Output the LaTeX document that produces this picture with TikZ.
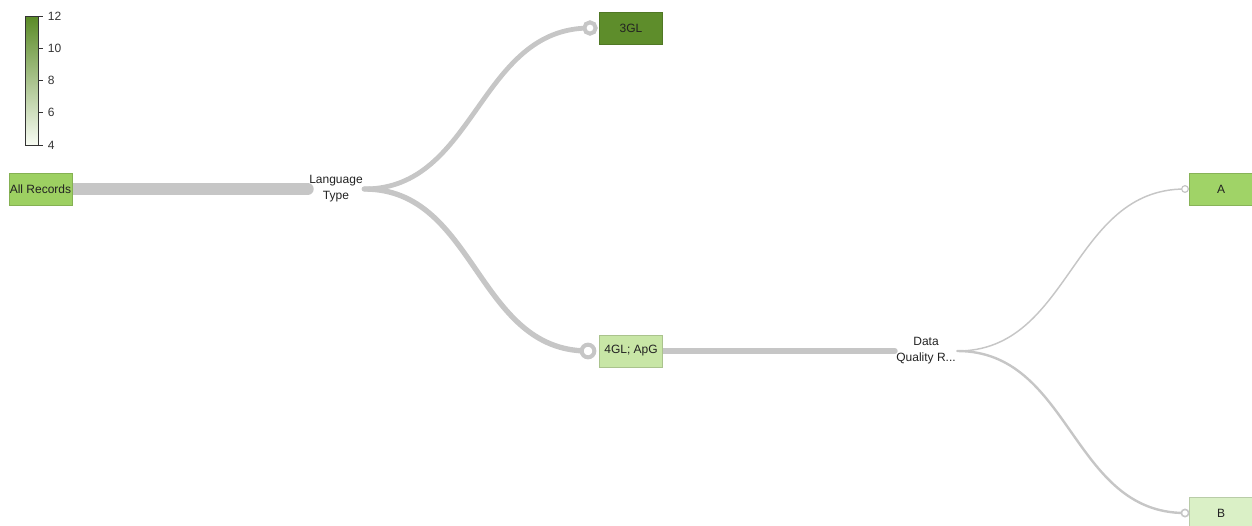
\documentclass[tikz,border=0pt]{standalone}
\usepackage{fontspec}
\setmainfont{Liberation Sans}
\usetikzlibrary{positioning,calc}

\definecolor{linkgray}{HTML}{C6C6C6}
\definecolor{txt}{HTML}{222222}
\definecolor{gA}{HTML}{A0D367}
\definecolor{gAll}{HTML}{9DD062}
\definecolor{g3GL}{HTML}{5E8D2B}
\definecolor{g4GL}{HTML}{C8E6A6}
\definecolor{gB}{HTML}{DAF0C6}
\definecolor{barTop}{HTML}{5A8A26}
\definecolor{barBot}{HTML}{F8FCF3}

\pgfdeclarelayer{links}
\pgfsetlayers{links,main}

\begin{document}
\begin{tikzpicture}[
  x=0.75pt, y=-0.75pt,
  font=\fontsize{9}{12}\selectfont, text=txt,
  leaf/.style={draw=#1!85!black, line width=0.3pt, fill=#1, minimum width=47pt, minimum height=24pt, inner sep=0pt},
  split/.style={align=center, inner sep=0pt, minimum width=#1},
  knob/.style={circle, draw=linkgray, fill=white, inner sep=0pt},
  link/.style={draw=linkgray, line width=#1, line cap=round},
]
  \useasboundingbox (0,0) rectangle (1252,525);

  % colour scale
  \shade[top color=barTop, bottom color=barBot] (25,16) rectangle (38,145);
  \draw[black!80, line width=0.6pt] (25,16) rectangle (38,145);
  \foreach \v [count=\i from 0] in {12,10,8,6,4}
    \draw[black!80, line width=0.6pt] (38,16+32.25*\i) -- ++(5,0)
      node[right=0pt, font=\fontsize{9}{10}\selectfont] {\v};

  % nodes
  \node[leaf=gAll] (all) at (40.5,189) {All Records};
  \node[split=42pt] (lang) at (336,189) {Language\\Type};
  \node[leaf=g3GL] (gl3) at (631,28) {3GL};
  \node[leaf=g4GL] (gl4) at (631,351) {4GL; ApG};
  \node[split=46.5pt] (dq) at (926,351) {Data\\Quality R...};
  \node[leaf=gA] (a) at (1221,189) {A};
  \node[leaf=gB] (b) at (1221,513) {B};

  % end knobs
  \node[knob, line width=3pt, minimum size=8.5pt] (k3) at (590,28) {};
  \node[knob, line width=3pt, minimum size=9.5pt] (k4) at (588,351) {};
  \node[knob, line width=0.9pt, minimum size=5pt] (ka) at (1185,189) {};
  \node[knob, line width=1.2pt, minimum size=5.5pt] (kb) at (1185,513) {};

  % links
  \begin{pgfonlayer}{links}
    \draw[link=9pt] (all.east) -- (lang.west);
    \draw[link=3.6pt] (lang.east) .. controls +(112,0) and +(-112,0) .. (k3.center);
    \draw[link=4pt] (lang.east) .. controls +(112,0) and +(-112,0) .. (k4.center);
    \draw[link=4.5pt] (gl4.east) -- (dq.west);
    \draw[link=1.1pt] (dq.east) .. controls +(114,0) and +(-114,0) .. (ka.center);
    \draw[link=1.8pt] (dq.east) .. controls +(114,0) and +(-114,0) .. (kb.center);
  \end{pgfonlayer}
\end{tikzpicture}
\end{document}
